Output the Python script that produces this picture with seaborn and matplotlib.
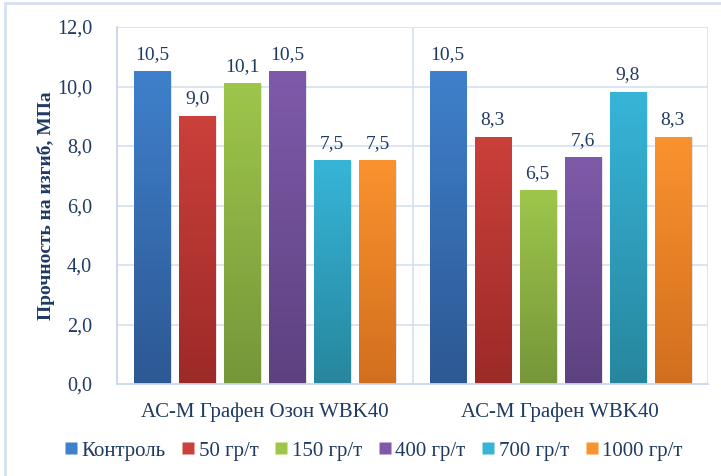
import numpy as np
import pandas as pd
import matplotlib
matplotlib.use("Agg")
import matplotlib.pyplot as plt
from matplotlib.colors import LinearSegmentedColormap
from matplotlib.lines import Line2D
from matplotlib.patches import Rectangle
import seaborn as sns

# --- data -------------------------------------------------------------
groups = ["АС-М Графен Озон WBK40", "АС-М Графен WBK40"]
doses = ["Контроль", "50 гр/т", "150 гр/т", "400 гр/т", "700 гр/т", "1000 гр/т"]
values_ozone = [10.5, 9.0, 10.1, 10.5, 7.5, 7.5]
values_plain = [10.5, 8.3, 6.5, 7.6, 9.8, 8.3]
y_ticks = [0, 2, 4, 6, 8, 10, 12]

# top / bottom shades used for the vertical gradient of each series
top_colors = ["#3F80CC", "#CB403B", "#9EC64B", "#7F5AAA", "#37B5D8", "#FA922E"]
bottom_colors = ["#2D5893", "#9C2A27", "#76963A", "#5D4180", "#27869E", "#D26F1E"]

text_color = "#1F3A63"
grid_color = "#D5E0F0"

df = pd.DataFrame({
    "group": np.repeat(groups, len(doses)),
    "dose": doses * len(groups),
    "value": values_ozone + values_plain,
})

sns.set_style("white")
plt.rcParams["font.family"] = ["Liberation Serif", "DejaVu Serif"]

fig = plt.figure(figsize=(7.21, 4.76), dpi=100)
ax = fig.add_axes([117 / 721, 1 - 384 / 476, (708 - 117) / 721, (384 - 27) / 476])

sns.barplot(data=df, x="group", y="value", hue="dose", order=groups,
            hue_order=doses, palette=top_colors, width=0.915, gap=0.2,
            legend=False, ax=ax, zorder=3)

ax.set_ylim(0, 12)
ax.set_xlim(-0.5, 1.5)

# replace flat fills by vertical gradients
n = len(groups)
for i, patch in enumerate(ax.patches[: n * len(doses)]):
    series = i // n
    x0 = patch.get_x()
    w = patch.get_width()
    h = patch.get_height()
    cmap = LinearSegmentedColormap.from_list(
        f"g{i}", [bottom_colors[series], top_colors[series]])
    grad = np.linspace(0, 1, 256).reshape(-1, 1)
    # soft shadow on the right side
    ax.add_patch(Rectangle((x0 + 0.006, 0), w, h, facecolor="#000000",
                           alpha=0.10, edgecolor="none", zorder=2.5))
    ax.imshow(grad, extent=(x0, x0 + w, 0, h), origin="lower", cmap=cmap,
              aspect="auto", zorder=3.2)
    patch.set_facecolor("none")
    patch.set_edgecolor("none")
    ax.text(x0 + w / 2, h + 0.3, f"{h:.1f}".replace(".", ","),
            ha="center", va="bottom", fontsize=14, color=text_color, zorder=4)

ax.set_ylim(0, 12)
ax.set_xlim(-0.5, 1.5)

# grid: horizontal every 2 units, vertical at category borders
ax.set_yticks(y_ticks)
ax.set_yticklabels([f"{t:.1f}".replace(".", ",") for t in y_ticks],
                   fontsize=14.5, color=text_color)
for t in y_ticks[1:]:
    ax.axhline(t, color=grid_color, lw=1.2, zorder=1)
for xb in (-0.5, 0.5, 1.5):
    ax.axvline(xb, color=grid_color, lw=1.2, zorder=1)

ax.set_xticks(range(n))
ax.set_xticklabels(groups, fontsize=15, color=text_color)
ax.tick_params(axis="both", length=0)
ax.tick_params(axis="y", pad=18)
ax.tick_params(axis="x", pad=13)

for side in ("top", "right"):
    ax.spines[side].set_visible(False)
for side in ("left", "bottom"):
    ax.spines[side].set_color("#C9D7EC")
    ax.spines[side].set_linewidth(1.3)
    ax.spines[side].set_zorder(5)

ax.set_xlabel("")
ax.set_ylabel("Прочность на изгиб, МПа", fontsize=14, fontweight="bold",
              color=text_color)
ax.yaxis.set_label_coords(-(117 - 55) / 591, 0.50)

# legend along the bottom
handles = [Line2D([], [], marker="s", linestyle="none", markersize=8,
                  markerfacecolor=c, markeredgecolor="none") for c in top_colors]
fig.legend(handles, doses, loc="center", bbox_to_anchor=(373 / 721, 1 - 451 / 476),
           ncol=6, frameon=False, fontsize=15, handlelength=0.7,
           handletextpad=0.15, columnspacing=0.75, labelcolor=text_color)

# light frame around the whole chart
fig.patches.append(Rectangle((5 / 721, -0.02), 1.05, 1 - 3 / 476 + 0.02,
                             transform=fig.transFigure, fill=False,
                             edgecolor="#D5E0F0", lw=2, zorder=0))

fig.savefig("out.png", dpi=100)
